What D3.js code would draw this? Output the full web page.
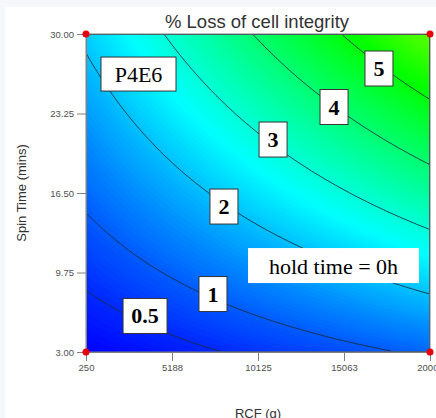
<!DOCTYPE html>
<html>

<head>
    <title>% Loss of cell integrity</title>
    <script src="https://cdn.jsdelivr.net/npm/d3@7"></script>
    <style>
        body {
            margin: 0;
            background: #f5f7fa;
        }

        .tick text {
            font-family: "Liberation Sans", Arial, sans-serif;
            font-size: 9.5px;
            fill: #505050;
        }

        .tick line,
        .domain {
            stroke: #808080;
        }
    </style>
</head>

<body>
    <svg width="436" height="418"></svg>

    <script>
        // axis ticks
        const xTicks = [250, 5188, 10125, 15063, 20000];
        const yTicks = [3.00, 9.75, 16.50, 23.25, 30.00];

        // fitted response surface (coded units A = RCF, B = spin time)
        const coefTerms = ["Intercept", "A", "B", "AB", "A^2", "B^2"];
        const coefValues = [2.35, 1.22, 1.73, 0.72, -0.005, -0.018];

        // contour lines drawn on the plot
        const contourLevels = [0.5, 1, 2, 3, 4, 5, 6];

        // boxed contour labels (RCF, spin time)
        const labelText = ["0.5", "1", "2", "3", "4", "5"];
        const labelRcf = [3640, 7540, 8170, 10990, 14490, 17070];
        const labelTime = [6.06, 7.92, 15.35, 21.04, 23.8, 27.07];

        const svg = d3.select("svg"),
            width = +svg.attr("width"),
            height = +svg.attr("height");

        svg.append("rect")
            .attr("x", 5).attr("y", 7)
            .attr("width", width - 5).attr("height", height - 7)
            .attr("fill", "#fff");

        const x = d3.scaleLinear().domain([250, 20000]).range([86, 430]);
        const y = d3.scaleLinear().domain([3, 30]).range([352, 34]);

        const plotLeft = x.range()[0], plotRight = x.range()[1];
        const plotTop = y.range()[1], plotBottom = y.range()[0];

        function response(rcf, time) {
            const A = (rcf - 10125) / 9875,
                B = (time - 16.5) / 13.5;
            const terms = [1, A, B, A * B, A * A, B * B];
            return d3.sum(terms, (t, i) => t * coefValues[i]);
        }

        // sample the surface on a grid
        const nx = 172, ny = 159;
        const kx = (plotRight - plotLeft) / nx, ky = (plotBottom - plotTop) / ny;
        const values = new Array(nx * ny);
        for (let j = 0; j < ny; j++) {
            for (let i = 0; i < nx; i++) {
                values[j * nx + i] = response(
                    x.invert(plotLeft + (i + 0.5) * kx),
                    y.invert(plotTop + (j + 0.5) * ky));
            }
        }

        const path = d3.geoPath(d3.geoTransform({
            point(px, py) { this.stream.point(plotLeft + px * kx, plotTop + py * ky); }
        }));

        const color = d3.scaleLinear()
            .domain([0.1, 2.6, 5.1, 7.6])
            .range(["#0000ff", "#00ffff", "#00ff00", "#ffff00"])
            .clamp(true);

        svg.append("clipPath").attr("id", "plot")
            .append("rect")
            .attr("x", plotLeft).attr("y", plotTop)
            .attr("width", plotRight - plotLeft).attr("height", plotBottom - plotTop);

        const step = 0.05;
        const bands = d3.contours()
            .size([nx, ny])
            .thresholds(d3.range(0, 6.3, step))(values);

        svg.append("g")
            .attr("clip-path", "url(#plot)")
            .selectAll("path")
            .data(bands)
            .join("path")
            .attr("d", path)
            .attr("fill", d => color(d.value + step / 2));

        const lines = d3.contours()
            .size([nx, ny])
            .thresholds(contourLevels)(values);

        svg.append("g")
            .attr("clip-path", "url(#plot)")
            .selectAll("path")
            .data(lines)
            .join("path")
            .attr("d", path)
            .attr("fill", "none")
            .attr("stroke", "#1c2c3c")
            .attr("stroke-opacity", 0.85)
            .attr("stroke-width", 1);

        // axes
        svg.append("g")
            .attr("transform", `translate(0,${plotBottom})`)
            .call(d3.axisBottom(x).tickValues(xTicks).tickFormat(d3.format("d"))
                .tickSize(9).tickSizeOuter(0).tickPadding(3));

        svg.append("g")
            .attr("transform", `translate(${plotLeft},0)`)
            .call(d3.axisLeft(y).tickValues(yTicks).tickFormat(d3.format(".2f"))
                .tickSize(9).tickSizeOuter(0).tickPadding(3));

        svg.append("rect")
            .attr("x", plotLeft).attr("y", plotTop)
            .attr("width", plotRight - plotLeft).attr("height", plotBottom - plotTop)
            .attr("fill", "none")
            .attr("stroke", "#808080");

        // design points at the corners
        svg.append("g")
            .selectAll("circle")
            .data(d3.cross(x.domain(), y.domain()))
            .join("circle")
            .attr("cx", d => x(d[0]))
            .attr("cy", d => y(d[1]))
            .attr("r", 3.5)
            .attr("fill", "#e8000b");

        // titles
        svg.append("text")
            .attr("x", 257).attr("y", 28)
            .attr("text-anchor", "middle")
            .attr("font-family", "Liberation Sans, Arial, sans-serif")
            .attr("font-size", 18.5)
            .attr("fill", "#333")
            .text("% Loss of cell integrity");

        svg.append("text")
            .attr("x", (plotLeft + plotRight) / 2).attr("y", 418)
            .attr("text-anchor", "middle")
            .attr("font-family", "Liberation Sans, Arial, sans-serif")
            .attr("font-size", 13)
            .attr("fill", "#333")
            .text("RCF (g)");

        svg.append("text")
            .attr("transform", "translate(26,193) rotate(-90)")
            .attr("text-anchor", "middle")
            .attr("font-family", "Liberation Sans, Arial, sans-serif")
            .attr("font-size", 13)
            .attr("fill", "#333")
            .text("Spin Time (mins)");

        // boxed labels
        const serif = "Liberation Serif, Times New Roman, serif";

        const lab = svg.append("g")
            .selectAll("g")
            .data(labelText)
            .join("g")
            .attr("transform", (d, i) => `translate(${x(labelRcf[i])},${y(labelTime[i])})`);

        lab.append("rect")
            .attr("x", d => d.length > 1 ? -22 : -14)
            .attr("y", -17.5)
            .attr("width", d => d.length > 1 ? 44 : 28)
            .attr("height", 35)
            .attr("fill", "#fff")
            .attr("stroke", "#333");

        lab.append("text")
            .attr("text-anchor", "middle")
            .attr("dy", 7.5)
            .attr("font-family", serif)
            .attr("font-weight", "bold")
            .attr("font-size", 22)
            .text(d => d);

        const p4 = svg.append("g")
            .attr("transform", `translate(${x(3264)},${y(26.6)})`);
        p4.append("rect")
            .attr("x", -37.5).attr("y", -17)
            .attr("width", 75).attr("height", 34)
            .attr("fill", "#fff").attr("stroke", "#333");
        p4.append("text")
            .attr("text-anchor", "middle").attr("dy", 8)
            .attr("font-family", serif).attr("font-size", 22)
            .text("P4E6");

        const hold = svg.append("g")
            .attr("transform", `translate(${x(14460)},${y(10.34)})`);
        hold.append("rect")
            .attr("x", -85.5).attr("y", -17.5)
            .attr("width", 171).attr("height", 35)
            .attr("fill", "#fff");
        hold.append("text")
            .attr("text-anchor", "middle").attr("dy", 8)
            .attr("font-family", serif).attr("font-size", 22)
            .text("hold time = 0h");
    </script>

</body>

</html>
